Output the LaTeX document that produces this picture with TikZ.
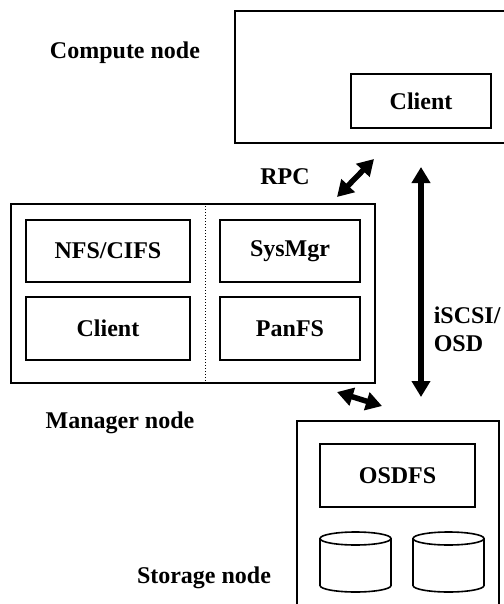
\documentclass[tikz,border=0pt]{standalone}
\usepackage{fontspec}
\setmainfont{Liberation Serif}
\usetikzlibrary{arrows.meta}
\begin{document}
\begin{tikzpicture}[x=1pt, y=-1pt, line width=1.6pt, font=\fontsize{24}{28}\selectfont\bfseries,
    outer node/.style={rectangle,draw,inner sep=0pt},
    part node/.style={rectangle,draw,inner sep=0pt},
    link/.style={line width=5.5pt,{Triangle[length=16pt,width=18pt]}-{Triangle[length=16pt,width=18pt]}}]

                \useasboundingbox (0, 0) rectangle (503, 604);

                % compute node
                \node[outer node, minimum width=285pt, minimum height=132pt] at (377.5, 77) (compute) {};
                \node[part node, minimum width=140pt, minimum height=54pt] at (421, 101) (cclient) {Client};
                \node at (125, 53) (computelabel) {Compute node};

                % manager node
                \node[outer node, minimum width=364pt, minimum height=179pt] at (193, 293.5) (manager) {};
                \node[part node, minimum width=164pt, minimum height=62pt] at (108, 251) (nfs) {NFS/CIFS};
                \node[part node, minimum width=164pt, minimum height=63pt] at (108, 328.5) (mclient) {Client};
                \node[part node, minimum width=140pt, minimum height=62pt] at (290, 251) (sysmgr) {SysMgr};
                \node[part node, minimum width=140pt, minimum height=63pt] at (290, 328.5) (panfs) {PanFS};
                \draw[line width=1pt, dotted] (manager.north -| 205, 0) -- (manager.south -| 205, 0);
                \node at (120, 423) (managerlabel) {Manager node};

                % storage node
                \node[outer node, minimum width=202pt, minimum height=199pt] at (398, 520.5) (storage) {};
                \node[part node, minimum width=155pt, minimum height=63pt] at (397.5, 475.5) (osdfs) {OSDFS};
                \node at (204, 578) (storagelabel) {Storage node};

                % disks
                \coordinate (diska) at (355.5, 538.5);
                \coordinate (diskb) at (448.5, 538.5);
                \foreach \d in {diska, diskb} {
                    \draw (\d) ellipse[x radius=35.5pt, y radius=6.5pt];
                    \draw (\d) ++(-35.5, 0) -- ++(0, 47) arc[start angle=180, end angle=360, x radius=35.5pt, y radius=6.5pt] -- ++(0, -47);
                }

                % links
                \coordinate (rpca) at (337, 197);
                \coordinate (rpcb) at (374, 159);
                \coordinate (iscsia) at (421, 167);
                \coordinate (iscsib) at (421, 397);
                \coordinate (mgra) at (337, 392);
                \coordinate (mgrb) at (382, 406);

                \path[link] (rpca) edge[] node {} (rpcb);
                \path[link] (iscsia) edge[] node {} (iscsib);
                \path[link] (mgra) edge[] node {} (mgrb);

                \node at (285, 177) (rpclabel) {RPC};
                \node[anchor=west, align=left, inner sep=0pt] at (433, 329) (iscsilabel) {iSCSI/\\OSD};
            \end{tikzpicture}
\end{document}
